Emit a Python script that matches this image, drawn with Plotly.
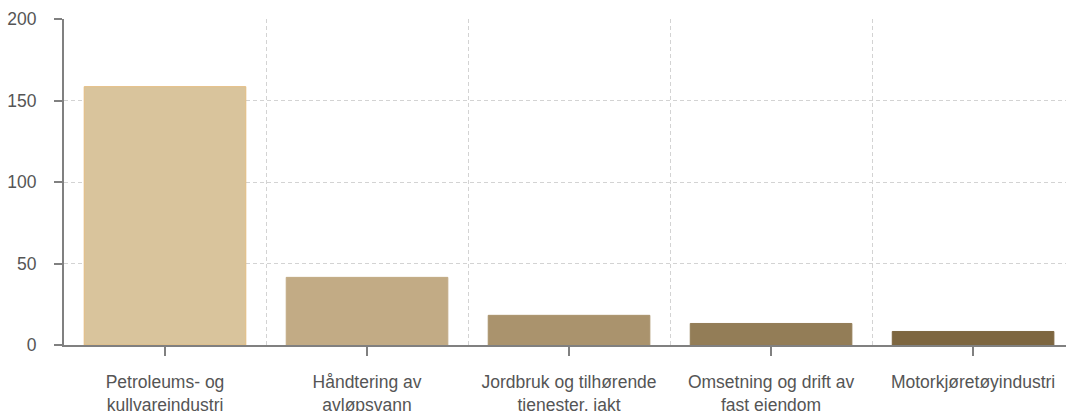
import plotly.graph_objects as go

# Data
categories = ['Petroleums- og<br>kullvareindustri', 'Håndtering av<br>avløpsvann',
              'Jordbruk og tilhørende<br>tjenester, jakt', 'Omsetning og drift av<br>fast eiendom',
              'Motorkjøretøyindustri']
values = [158.5, 41.5, 18.2, 13.2, 8.3]
colors = ['#D9C49C', '#C2AB85', '#AA936D', '#937D57', '#7D6640']
boundaries = [0.5, 1.5, 2.5, 3.5]

grid = '#D3D3D3'
axis = '#808080'
dash = '4px,3px'
font = dict(family='Liberation Sans, Arial, sans-serif', size=17.5, color='#555555')

fig = go.Figure()
fig.add_trace(go.Bar(x=categories, y=values, marker_color=colors,
                     marker_line=dict(color=['#E3BC80'] + colors[1:], width=1),
                     showlegend=False, hoverinfo='skip'))
# invisible helper so the boundary-grid axis is drawn
fig.add_trace(go.Scatter(x=boundaries, y=[0] * len(boundaries), xaxis='x2',
                         mode='markers', marker=dict(opacity=0), showlegend=False,
                         hoverinfo='skip'))

fig.update_layout(
    width=1066, height=411,
    margin=dict(l=64, r=0, t=19, b=66),
    plot_bgcolor='white', paper_bgcolor='white',
    font=font, bargap=0.2,
    xaxis=dict(type='category', range=[-0.5, 4.46], showgrid=False,
               showline=True, linecolor=axis, linewidth=2,
               ticks='outside', ticklen=9, tickcolor=axis, tickwidth=2,
               ticklabelstandoff=11, zeroline=False, automargin=False),
    xaxis2=dict(overlaying='x', range=[-0.5, 4.46], tickvals=boundaries,
                showticklabels=False, showgrid=True, gridcolor=grid, griddash=dash,
                gridwidth=1, zeroline=False, showline=False),
    yaxis=dict(range=[0, 200], tickvals=[0, 50, 100, 150, 200],
               showgrid=True, gridcolor=grid, griddash=dash, gridwidth=1,
               showline=True, linecolor=axis, linewidth=2,
               ticks='outside', ticklen=8, tickcolor=axis, tickwidth=2,
               ticklabelstandoff=14, zeroline=False, automargin=False),
)

fig.write_html('out.html', config={'displayModeBar': False},
               post_script="document.body.style.margin='0';")
